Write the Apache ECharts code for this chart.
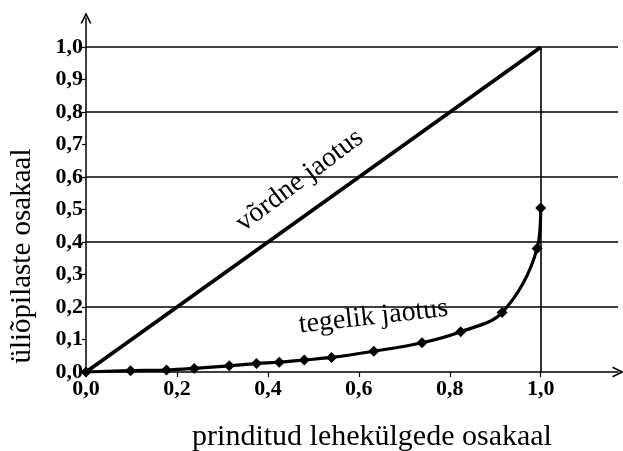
<!DOCTYPE html>
<html>
<head>
<meta charset="utf-8">
<script src="https://cdn.jsdelivr.net/npm/echarts@6/dist/echarts.min.js"></script>
<style>html,body{margin:0;padding:0;background:#fff}#c{width:623px;height:451px}</style>
</head>
<body>
<div id="c"></div>
<script>
// Data
const actualX = [0, 0.098, 0.177, 0.238, 0.315, 0.375, 0.425, 0.48, 0.54, 0.633, 0.739, 0.824, 0.915, 0.992, 1.0];
const actualY = [0, 0.004, 0.006, 0.011, 0.019, 0.026, 0.030, 0.037, 0.045, 0.064, 0.090, 0.124, 0.183, 0.38, 0.505];
const equalX = [0, 1];
const equalY = [0, 1];
const xTicks = [0, 0.2, 0.4, 0.6, 0.8, 1.0];
const yTicks = [0, 0.1, 0.2, 0.3, 0.4, 0.5, 0.6, 0.7, 0.8, 0.9, 1.0];
const gridValues = [0.2, 0.4, 0.6, 0.8, 1.0];
const xName = 'prinditud lehekülgede osakaal';
const yName = 'üliõpilaste osakaal';
const equalLabel = 'võrdne jaotus';
const actualLabel = 'tegelik jaotus';
const equalLabelPos = [0.47, 0.59];
const actualLabelPos = [0.632, 0.17];

const FONT = '"Liberation Serif", "Times New Roman", serif';
const fmt = v => v.toFixed(1).replace('.', ',');
const arrow = 'path://M0,10 L5,0 L10,10 L8.6,10.6 L5,3.2 L1.4,10.6 Z';

const chart = echarts.init(document.getElementById('c'), null, {renderer: 'canvas'});
const option = {
  animation: false,
  backgroundColor: '#fff',
  grid: {left: 86, top: 18, right: 5, bottom: 79, containLabel: false},
  xAxis: {
    type: 'value', min: 0, max: 1.17, interval: 0.2,
    axisLine: {show: true, onZero: false, symbol: ['none', arrow], symbolSize: [11, 16], lineStyle: {color: '#000', width: 1.5}},
    axisTick: {show: true, length: 5, customValues: xTicks, lineStyle: {color: '#000', width: 1.2}},
    axisLabel: {customValues: xTicks, formatter: fmt, color: '#000', fontFamily: FONT, fontWeight: 'bold', fontSize: 22, margin: 6},
    splitLine: {show: false}
  },
  yAxis: {
    type: 'value', min: 0, max: 1.09, interval: 0.1,
    axisLine: {show: true, onZero: false, symbol: ['none', arrow], symbolSize: [11, 16], lineStyle: {color: '#000', width: 1.5}},
    axisTick: {show: true, length: 4, customValues: yTicks, lineStyle: {color: '#000', width: 1.2}},
    axisLabel: {customValues: yTicks, formatter: fmt, color: '#000', fontFamily: FONT, fontWeight: 'bold', fontSize: 22, margin: 3},
    splitLine: {show: false}
  },
  series: [
    {
      type: 'line',
      data: equalX.map((x, i) => [x, equalY[i]]),
      showSymbol: false,
      lineStyle: {color: '#000', width: 3.8},
      z: 3,
      markLine: {
        silent: true, symbol: 'none', label: {show: false},
        lineStyle: {color: '#000', width: 1.6, type: 'solid'},
        data: gridValues.map(v => ({yAxis: v})).concat([[{coord: [1, 0]}, {coord: [1, 1]}]])
      }
    },
    {
      type: 'line',
      data: actualX.map((x, i) => [x, actualY[i]]),
      smooth: 0.35,
      symbol: 'diamond',
      symbolSize: 11,
      itemStyle: {color: '#000'},
      lineStyle: {color: '#000', width: 3.2},
      z: 4
    }
  ]
};
chart.setOption(option);

const p1 = chart.convertToPixel({gridIndex: 0}, equalLabelPos);
const p2 = chart.convertToPixel({gridIndex: 0}, actualLabelPos);
chart.setOption({
  graphic: [
    {type: 'text', x: p1[0], y: p1[1], rotation: 37 * Math.PI / 180,
     style: {text: equalLabel, font: '28px ' + FONT, fill: '#000', textAlign: 'center', textVerticalAlign: 'middle'}},
    {type: 'text', x: p2[0], y: p2[1], rotation: 6.5 * Math.PI / 180,
     style: {text: actualLabel, font: '28px ' + FONT, fill: '#000', textAlign: 'center', textVerticalAlign: 'middle'}},
    {type: 'text', x: 372, y: 437,
     style: {text: xName, font: '30px ' + FONT, fill: '#000', textAlign: 'center', textVerticalAlign: 'middle'}},
    {type: 'text', x: 22, y: 256, rotation: Math.PI / 2,
     style: {text: yName, font: '29px ' + FONT, fill: '#000', textAlign: 'center', textVerticalAlign: 'middle'}}
  ]
});
</script>
</body>
</html>
